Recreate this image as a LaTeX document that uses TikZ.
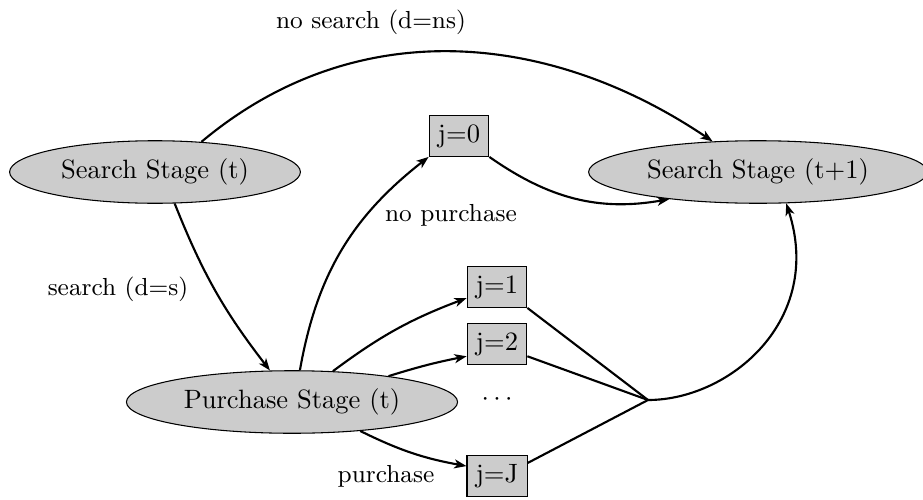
\documentclass[tikz,border=0pt]{standalone}
\usetikzlibrary{shapes.geometric,arrows.meta}
\begin{document}
\begin{tikzpicture}[x=0.377pt,y=0.377pt,
  stage/.style={ellipse,draw,thin,fill=gray!40},
  choice/.style={rectangle,draw,thin,fill=gray!40,minimum height=15.2pt},
  lbl/.style={inner sep=0pt,font=\fontsize{9.3}{11}\selectfont},
  arr/.style={thick,-{Stealth[length=4.6pt,width=3.4pt,inset=1.3pt]}},
  link/.style={thick}]
\useasboundingbox (0,0) rectangle (923,-499);

% stages
\node[stage] (sst) at (155,-172) {Search Stage (t)};
\node[stage] (ss1) at (758,-172) {Search Stage (t+1)};
\node[stage] (pst) at (292,-402) {Purchase Stage (t)};

% purchase choices
\node[choice] (j0) at (459,-136) {j=0};
\node[choice] (j1) at (497,-287) {j=1};
\node[choice] (j2) at (497,-344) {j=2};
\node[choice] (jJ) at (497,-476) {j=J};
\node[inner sep=0pt] (dots) at (497,-400) {$\cdots$};
\coordinate (m) at (648,-400);

% labels
\node[lbl] (lns) at (371,-22) {no search (d=ns)};
\node[lbl] (ls) at (118,-289) {search (d=s)};
\node[lbl] (lnp) at (451,-215) {no purchase};
\node[lbl] (lp) at (386,-476) {purchase};

% transitions
\draw[arr] (sst.33) to[out=40,in=146,looseness=1] (ss1.146);
\draw[arr] (sst.-58) to[bend right=8] (pst.125);
\draw[arr] (pst.76) to[out=80,in=218] (j0.south west);
\draw[arr] (j0.south east) to[out=-35,in=190] (ss1.-163);
\draw[arr] (pst.37) to[bend left=8] (j1.200);
\draw[arr] (pst.15) to[bend left=3] (j2.202);
\draw[arr] (pst.-23) to[bend right=8] (jJ.162);
\draw[link] (j1.south east) -- (m);
\draw[link] (j2.-22) -- (m);
\draw[link] (jJ.23) -- (m);
\draw[arr] (m) to[out=0,in=-72,out looseness=0.87,in looseness=1.31] (ss1.-48);
\end{tikzpicture}
\end{document}
